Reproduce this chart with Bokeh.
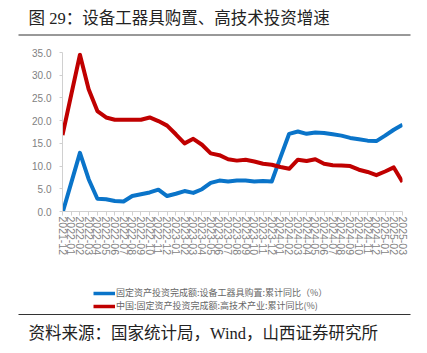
from bokeh.plotting import figure
from bokeh.models import Range1d, FixedTicker, NumeralTickFormatter, Legend, LegendItem, Label
from bokeh.layouts import column
from bokeh.embed import file_html
from bokeh.resources import INLINE

months = [
    "2021-12",
    "2022-01", "2022-02", "2022-03", "2022-04", "2022-05", "2022-06",
    "2022-07", "2022-08", "2022-09", "2022-10", "2022-11", "2022-12",
    "2023-01", "2023-02", "2023-03", "2023-04", "2023-05", "2023-06",
    "2023-07", "2023-08", "2023-09", "2023-10", "2023-11", "2023-12",
    "2024-01", "2024-02", "2024-03", "2024-04", "2024-05", "2024-06",
    "2024-07", "2024-08", "2024-09", "2024-10", "2024-11", "2024-12",
    "2025-01", "2025-02", "2025-03",
]

equipment = [
    -0.3,
    6.3, 12.9, 7.1, 2.8, 2.7, 2.3,
    2.2, 3.4, 3.8, 4.2, 4.8, 3.4,
    3.9, 4.5, 4.1, 4.9, 6.3, 6.8,
    6.6, 6.8, 6.8, 6.6, 6.7, 6.6,
    11.9, 17.1, 17.6, 17.1, 17.4, 17.3,
    17.0, 16.7, 16.2, 15.9, 15.6, 15.5,
    16.7, 18.0, 19.1,
]

hightech = [
    16.8,
    25.7, 34.5, 26.9, 22.1, 20.7, 20.2,
    20.2, 20.2, 20.2, 20.7, 19.9, 18.9,
    17.0, 15.0, 16.0, 14.7, 12.8, 12.4,
    11.5, 11.2, 11.4, 11.0, 10.5, 10.3,
    9.8, 9.4, 11.4, 11.1, 11.5, 10.5,
    10.2, 10.1, 10.0, 9.2, 8.7, 8.0,
    8.8, 9.7, 6.5,
]

y_ticks = [0, 5, 10, 15, 20, 25, 30, 35]

title_text = "图 29：设备工器具购置、高技术投资增速"
source_text = "资料来源：国家统计局，Wind，山西证券研究所"
label_equipment = "固定资产投资完成额:设备工器具购置:累计同比（%）"
label_hightech = "中国:固定资产投资完成额:高技术产业:累计同比(%)"

BLUE = "#0a74c9"
RED = "#c00000"
GRAY = "#7f7f7f"
AXIS = "#d0d0d0"
HEAD_FONT = "Liberation Serif, Noto Sans CJK SC"
CJK_FONT = "Noto Sans CJK SC"
NUM_FONT = "Liberation Sans"

W = 427
HEAD_H, MAIN_H = 38, 222
FOOT_H = 353 - HEAD_H - MAIN_H

# ---- header -------------------------------------------------------------
head = figure(width=W, height=HEAD_H, x_range=Range1d(0, W), y_range=Range1d(HEAD_H, 0),
              x_axis_type=None, y_axis_type=None, toolbar_location=None,
              output_backend="svg", min_border=0, outline_line_color=None)
head.frame_align = False
head.grid.visible = False
head.segment(x0=[18], y0=[34.5], x1=[410], y1=[34.5], line_color="#333333", line_width=1)
head.add_layout(Label(x=28, y=18, text=title_text, text_align="left", text_baseline="middle",
                      text_font=HEAD_FONT, text_font_size="16.5px", text_color="#222222"))

# ---- main chart -----------------------------------------------------------
x = list(range(len(months)))
p = figure(width=W, height=MAIN_H, x_range=Range1d(0, len(months) - 1), y_range=Range1d(0, 35),
           toolbar_location=None, output_backend="svg",
           min_border_left=62, min_border_right=25, min_border_top=14, min_border_bottom=49,
           outline_line_color=None)
p.frame_align = False
p.grid.visible = False

p.line(x, equipment, line_color=BLUE, line_width=4, line_join="round")
p.line(x, hightech, line_color=RED, line_width=4, line_join="round")

p.xaxis.ticker = FixedTicker(ticks=x)
p.xaxis.major_label_overrides = {i: m for i, m in enumerate(months)}
p.xaxis.major_label_orientation = "vertical"
p.xaxis.major_label_text_font = NUM_FONT
p.xaxis.major_label_text_font_size = "10.5px"
p.xaxis.major_label_text_color = GRAY
p.xaxis.axis_line_color = AXIS
p.xaxis.major_tick_line_color = AXIS
p.xaxis.major_tick_out = 4
p.xaxis.major_tick_in = 0
p.xaxis.minor_tick_line_color = None
p.xaxis.major_label_standoff = 1

p.yaxis.ticker = FixedTicker(ticks=y_ticks)
p.yaxis.formatter = NumeralTickFormatter(format="0.0")
p.yaxis.major_label_text_font = NUM_FONT
p.yaxis.major_label_text_font_size = "10px"
p.yaxis.major_label_text_color = GRAY
p.yaxis.axis_line_color = AXIS
p.yaxis.major_tick_line_color = AXIS
p.yaxis.major_tick_out = 3
p.yaxis.major_tick_in = 0
p.yaxis.minor_tick_line_color = None
p.yaxis.major_label_standoff = 8

# ---- footer: legend, rule, source -----------------------------------------
foot = figure(width=W, height=FOOT_H, x_range=Range1d(0, W), y_range=Range1d(FOOT_H, 0),
              x_axis_type=None, y_axis_type=None, toolbar_location=None,
              output_backend="svg", min_border=0, outline_line_color=None)
foot.frame_align = False
foot.grid.visible = False

# legend keys: style carriers only, placed off-canvas
k1 = foot.line(x=[-100, -90], y=[-100, -100], line_color=BLUE, line_width=3.5)
k2 = foot.line(x=[-100, -90], y=[-100, -100], line_color=RED, line_width=3.5)
legend = Legend(items=[LegendItem(label=label_equipment, renderers=[k1]),
                       LegendItem(label=label_hightech, renderers=[k2])],
                location=(93, FOOT_H - 52), orientation="vertical",
                border_line_color=None, background_fill_alpha=0,
                label_text_font=CJK_FONT, label_text_font_size="9px",
                label_text_color="#666666", glyph_width=22, glyph_height=12,
                label_standoff=1, spacing=0, padding=0, margin=0, label_height=12)
foot.add_layout(legend)

foot.segment(x0=[18], y0=[54], x1=[410], y1=[54], line_color="#333333", line_width=1)
foot.add_layout(Label(x=28, y=73, text=source_text, text_align="left", text_baseline="middle",
                      text_font=HEAD_FONT, text_font_size="16.5px", text_color="#222222"))

layout = column(head, p, foot, spacing=0)
open("out.html", "w").write(file_html(layout, INLINE))
